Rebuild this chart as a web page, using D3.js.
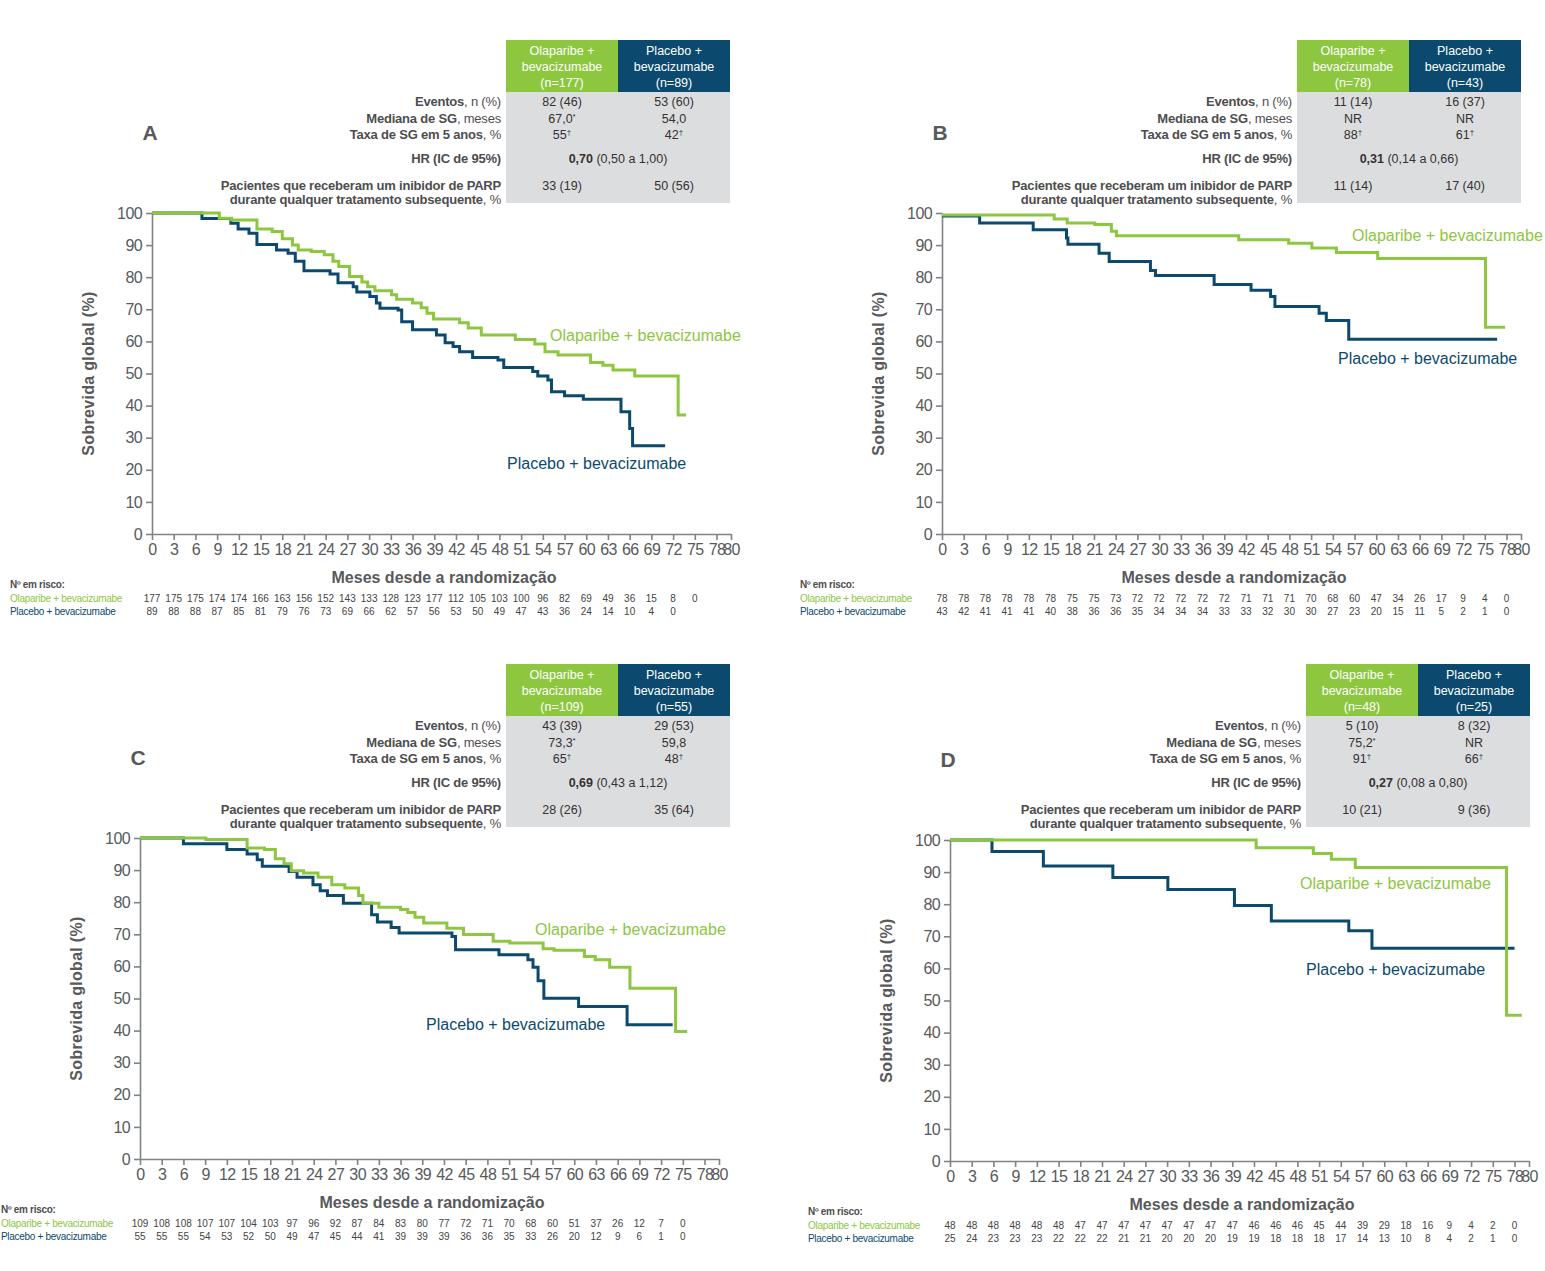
<!DOCTYPE html>
<html>
<head>
<meta charset="utf-8">
<script src="https://cdn.jsdelivr.net/npm/d3@7"></script>
<style>
  body { margin: 0; background: #fff; }
  svg { display: block; font-family: "Liberation Sans", Arial, sans-serif; }
</style>
</head>
<body>
<div id="chart"></div>
<script>
// eixos
var xTicks = [0,3,6,9,12,15,18,21,24,27,30,33,36,39,42,45,48,51,54,57,60,63,66,69,72,75,78,80];
var yTicks = [0,10,20,30,40,50,60,70,80,90,100];

// curvas de sobrevida (mes, %)
var A_ola = [[0,100],[9.3,98.4],[11,97.8],[14.5,95],[16.6,94.2],[18,92],[19.4,90],[20.2,88.5],[22,88],[23.8,87],[25,85],[25.8,83.3],[27.3,80.2],[29,78.5],[29.8,77],[30.8,75.8],[33.1,74.5],[33.8,73.1],[36,72],[37.2,70.5],[38,68.8],[38.9,67],[42.5,65.8],[43.7,64.2],[45.5,62],[50.2,60.6],[52.9,59.2],[54.3,56.8],[56.1,55.8],[60.6,53.4],[62.3,52.6],[63.7,51.1],[66.7,49.2],[72.7,37.1],[73.8,37.1]];
var A_pla = [[0,100],[6.9,98.3],[10.9,96.8],[11.9,95],[13.4,93.7],[14.5,90.2],[17.2,88.5],[18.8,87.5],[19.8,85],[21,82],[24.6,81],[25.7,78.3],[27.8,77],[28.3,75.4],[30.1,74],[31,72],[31.5,70.3],[34,69.8],[34.5,66.1],[36,63.6],[39.3,62],[40.5,59.6],[41.6,58.4],[42.5,56.8],[44.3,55],[47.8,54.2],[48.6,51.9],[52.6,50.6],[53.3,49.2],[54.7,48],[55.2,44.3],[57,43.1],[59.6,42],[64.8,38.1],[66,32.9],[66.4,27.5],[70.9,27.5]];
var B_ola = [[0,99.4],[15.5,98.1],[17.3,96.9],[21.1,96.4],[23.4,94.3],[24.1,92.9],[41,91.7],[47.9,90.6],[51.1,89.1],[54.5,87.7],[60.2,85.8],[75.1,64.4],[77.8,64.4]];
var B_pla = [[0,99.1],[5.2,96.9],[12.6,94.8],[17.2,92.2],[17.4,90.3],[21.7,87.5],[23.1,84.9],[28.8,82.1],[29.5,80.5],[37.6,77.7],[42.7,75.9],[45.4,74],[46,70.9],[52.1,68.8],[53.1,66.5],[56.2,60.7],[76.7,60.7]];
var C_ola = [[0,100],[9.1,99.5],[14.8,96.9],[17.2,96.4],[18.7,93.5],[19.9,92],[20.9,89.8],[22.6,89.1],[24.6,87.8],[26.5,85.4],[28.3,84.4],[30.2,82.1],[30.8,79.7],[33,78.4],[36,77.7],[37,76.8],[38,75.3],[39.2,73.5],[42.4,71.9],[44.7,69.9],[48.8,67.8],[51.1,67.3],[55.7,65.5],[57.2,65],[61.4,63.1],[62.9,62.1],[64.9,59.7],[67.7,53.2],[74,39.7],[75.6,39.7]];
var C_pla = [[0,100],[6,98.2],[12,96.4],[14.8,95],[16.2,93.2],[16.9,91.2],[20.6,89.6],[21.7,87.8],[23.9,85.4],[24.9,83.6],[25.9,82.1],[28.1,79.7],[32,76.1],[32.8,73.8],[34.7,72.1],[35.8,70.4],[43.1,69.3],[43.6,65.2],[49.6,63.6],[53.6,62.1],[54.3,59.7],[55,55.5],[55.8,50.1],[60.6,47.5],[67.3,41.8],[73.6,41.8]];
var D_ola = [[0,100],[42.3,97.6],[50.2,95.8],[52.7,94],[56,91.4],[76.9,45.4],[79,45.4]];
var D_pla = [[0,100],[5.8,96.4],[12.9,91.9],[22.5,88.3],[30.1,84.6],[39.3,79.6],[44.4,74.8],[55.1,71.7],[58.3,66.3],[78,66.3]];

// numero em risco (a cada 3 meses)
var A_riscoOla = [177,175,175,174,174,166,163,156,152,143,133,128,123,177,112,105,103,100,96,82,69,49,36,15,8,0];
var A_riscoPla = [89,88,88,87,85,81,79,76,73,69,66,62,57,56,53,50,49,47,43,36,24,14,10,4,0];
var B_riscoOla = [78,78,78,78,78,78,75,75,73,72,72,72,72,72,71,71,71,70,68,60,47,34,26,17,9,4,0];
var B_riscoPla = [43,42,41,41,41,40,38,36,36,35,34,34,34,33,33,32,30,30,27,23,20,15,11,5,2,1,0];
var C_riscoOla = [109,108,108,107,107,104,103,97,96,92,87,84,83,80,77,72,71,70,68,60,51,37,26,12,7,0];
var C_riscoPla = [55,55,55,54,53,52,50,49,47,45,44,41,39,39,39,36,36,35,33,26,20,12,9,6,1,0];
var D_riscoOla = [48,48,48,48,48,48,47,47,47,47,47,47,47,47,46,46,46,45,44,39,29,18,16,9,4,2,0];
var D_riscoPla = [25,24,23,23,23,22,22,22,21,21,20,20,20,19,19,18,18,18,17,14,13,10,8,4,2,1,0];

// tabelas: [olaparibe, placebo]
var A_n = ["(n=177)","(n=89)"], A_eventos = ["82 (46)","53 (60)"], A_mediana = ["67,0*","54,0"], A_taxa = ["55†","42†"], A_hr = ["0,70","(0,50 a 1,00)"], A_parp = ["33 (19)","50 (56)"];
var B_n = ["(n=78)","(n=43)"], B_eventos = ["11 (14)","16 (37)"], B_mediana = ["NR","NR"], B_taxa = ["88†","61†"], B_hr = ["0,31","(0,14 a 0,66)"], B_parp = ["11 (14)","17 (40)"];
var C_n = ["(n=109)","(n=55)"], C_eventos = ["43 (39)","29 (53)"], C_mediana = ["73,3*","59,8"], C_taxa = ["65†","48†"], C_hr = ["0,69","(0,43 a 1,12)"], C_parp = ["28 (26)","35 (64)"];
var D_n = ["(n=48)","(n=25)"], D_eventos = ["5 (10)","8 (32)"], D_mediana = ["75,2*","NR"], D_taxa = ["91†","66†"], D_hr = ["0,27","(0,08 a 0,80)"], D_parp = ["10 (21)","9 (36)"];

var VERDE = "#8dc63f", AZUL = "#0b4a6e", CINZA = "#58595b", FUNDO = "#dcdddf";
var W = 579, H = 321;

var paineis = [
  {letra: "A", x: 152, y: 213, tx: 506, ty: 40, ola: A_ola, pla: A_pla, rOla: A_riscoOla, rPla: A_riscoPla,
   n: A_n, ev: A_eventos, med: A_mediana, taxa: A_taxa, hr: A_hr, parp: A_parp, lOla: [398, 128], lPla: [355, 256]},
  {letra: "B", x: 942, y: 213, tx: 1297, ty: 40, ola: B_ola, pla: B_pla, rOla: B_riscoOla, rPla: B_riscoPla,
   n: B_n, ev: B_eventos, med: B_mediana, taxa: B_taxa, hr: B_hr, parp: B_parp, lOla: [410, 28], lPla: [396, 151]},
  {letra: "C", x: 140, y: 838, tx: 506, ty: 664, ola: C_ola, pla: C_pla, rOla: C_riscoOla, rPla: C_riscoPla,
   n: C_n, ev: C_eventos, med: C_mediana, taxa: C_taxa, hr: C_hr, parp: C_parp, lOla: [395, 97], lPla: [286, 192]},
  {letra: "D", x: 950, y: 840, tx: 1306, ty: 664, ola: D_ola, pla: D_pla, rOla: D_riscoOla, rPla: D_riscoPla,
   n: D_n, ev: D_eventos, med: D_mediana, taxa: D_taxa, hr: D_hr, parp: D_parp, lOla: [350, 49], lPla: [356, 135]}
];

var svg = d3.select("#chart").append("svg")
    .attr("width", 1545)
    .attr("height", 1271);

// texto com sobrescrito (* ou †)
function valor(sel, s) {
  var m = s.match(/^(.*?)([*†]?)$/);
  sel.append("tspan").text(m[1]);
  if (m[2]) sel.append("tspan").attr("font-size", 8).attr("dy", -4).text(m[2]);
}

function tabela(p) {
  var g = svg.append("g").attr("transform", "translate(" + p.tx + "," + p.ty + ")");
  g.append("rect").attr("x", 0).attr("y", 0).attr("width", 112).attr("height", 52).attr("fill", VERDE);
  g.append("rect").attr("x", 112).attr("y", 0).attr("width", 112).attr("height", 52).attr("fill", AZUL);
  g.append("rect").attr("x", 0).attr("y", 52).attr("width", 224).attr("height", 111).attr("fill", FUNDO);

  var cab = [["Olaparibe +", "bevacizumabe", p.n[0]], ["Placebo +", "bevacizumabe", p.n[1]]];
  cab.forEach(function(linhas, c) {
    linhas.forEach(function(t, i) {
      g.append("text").attr("x", 56 + c * 112).attr("y", 14.5 + i * 16)
        .attr("text-anchor", "middle").attr("font-size", 12.5).attr("fill", "#fff").text(t);
    });
  });

  var rotulos = [
    [61, "Eventos", ", n (%)"],
    [78, "Mediana de SG", ", meses"],
    [94, "Taxa de SG em 5 anos", ", %"],
    [118, "HR (IC de 95%)", ""],
    [145, "Pacientes que receberam um inibidor de PARP", ""],
    [159, "durante qualquer tratamento subsequente", ", %"]
  ];
  rotulos.forEach(function(r) {
    var t = g.append("text").attr("x", -5).attr("y", r[0] + 4.5)
      .attr("text-anchor", "end").attr("font-size", 13).attr("letter-spacing", -0.2).attr("fill", "#4d4d4f");
    t.append("tspan").attr("font-weight", "bold").text(r[1]);
    if (r[2]) t.append("tspan").text(r[2]);
  });

  var linhas = [[61, p.ev], [78, p.med], [94, p.taxa], [145, p.parp]];
  linhas.forEach(function(l) {
    l[1].forEach(function(v, c) {
      var t = g.append("text").attr("x", 56 + c * 112).attr("y", l[0] + 4.5)
        .attr("text-anchor", "middle").attr("font-size", 12.5).attr("fill", "#333");
      valor(t, v);
    });
  });

  var hr = g.append("text").attr("x", 112).attr("y", 118 + 4.5)
    .attr("text-anchor", "middle").attr("font-size", 12.5).attr("fill", "#333");
  hr.append("tspan").attr("font-weight", "bold").text(p.hr[0]);
  hr.append("tspan").text(" " + p.hr[1]);
}

function grafico(p) {
  var g = svg.append("g").attr("transform", "translate(" + p.x + "," + p.y + ")");
  var x = d3.scaleLinear().domain([0, 80]).range([0, W]);
  var y = d3.scaleLinear().domain([0, 100]).range([H, 0]);

  var gx = g.append("g").attr("transform", "translate(0," + H + ")")
    .call(d3.axisBottom(x).tickValues(xTicks).tickSize(6).tickSizeOuter(0).tickPadding(4));
  var gy = g.append("g")
    .call(d3.axisLeft(y).tickValues(yTicks).tickSize(6).tickSizeOuter(0).tickPadding(4));
  [gx, gy].forEach(function(a) {
    a.selectAll("path, line").attr("stroke", "#808285").attr("stroke-width", 1.6);
    a.selectAll("text").attr("font-size", 16).attr("fill", CINZA).attr("font-family", "Liberation Sans, Arial, sans-serif")
      .attr("letter-spacing", -0.6);
  });

  var linha = d3.line()
    .x(function(d) { return x(d[0]); })
    .y(function(d) { return y(d[1]); })
    .curve(d3.curveStepAfter);

  g.append("path").datum(p.pla).attr("d", linha)
    .attr("fill", "none").attr("stroke", AZUL).attr("stroke-width", 3);
  g.append("path").datum(p.ola).attr("d", linha)
    .attr("fill", "none").attr("stroke", VERDE).attr("stroke-width", 3);

  g.append("text").attr("x", p.lOla[0]).attr("y", p.lOla[1])
    .attr("font-size", 16).attr("fill", VERDE).text("Olaparibe + bevacizumabe");
  g.append("text").attr("x", p.lPla[0]).attr("y", p.lPla[1])
    .attr("font-size", 16).attr("fill", AZUL).text("Placebo + bevacizumabe");

  // letra do painel
  g.append("text").attr("x", -2).attr("y", -73).attr("text-anchor", "middle")
    .attr("font-size", 21).attr("font-weight", "bold").attr("fill", CINZA).text(p.letra);

  // titulos dos eixos
  g.append("text").attr("transform", "translate(-58," + (H / 2) + ") rotate(-90)")
    .attr("text-anchor", "middle").attr("font-size", 16).attr("font-weight", "bold")
    .attr("letter-spacing", 0.3).attr("fill", CINZA).text("Sobrevida global (%)");
  g.append("text").attr("x", 292).attr("y", 370).attr("text-anchor", "middle")
    .attr("font-size", 16).attr("font-weight", "bold").attr("fill", CINZA)
    .text("Meses desde a randomização");

  // numero em risco (rotulos nao podem sair da pagina)
  var lx = Math.max(-142, 1 - p.x);
  g.append("text").attr("x", lx).attr("y", 375).attr("font-size", 10)
    .attr("font-weight", "bold").attr("fill", "#4d4d4f").attr("letter-spacing", -0.3).text("Nº em risco:");
  g.append("text").attr("x", lx).attr("y", 389).attr("font-size", 10)
    .attr("fill", VERDE).attr("letter-spacing", -0.3).text("Olaparibe + bevacizumabe");
  g.append("text").attr("x", lx).attr("y", 402).attr("font-size", 10)
    .attr("fill", AZUL).attr("letter-spacing", -0.3).text("Placebo + bevacizumabe");

  g.append("g").selectAll("text").data(p.rOla).enter().append("text")
    .attr("x", function(d, i) { return x(i * 3); }).attr("y", 389)
    .attr("text-anchor", "middle").attr("font-size", 10).attr("fill", "#444")
    .text(function(d) { return d; });
  g.append("g").selectAll("text").data(p.rPla).enter().append("text")
    .attr("x", function(d, i) { return x(i * 3); }).attr("y", 402)
    .attr("text-anchor", "middle").attr("font-size", 10).attr("fill", "#444")
    .text(function(d) { return d; });
}

paineis.forEach(function(p) {
  tabela(p);
  grafico(p);
});
</script>
</body>
</html>
